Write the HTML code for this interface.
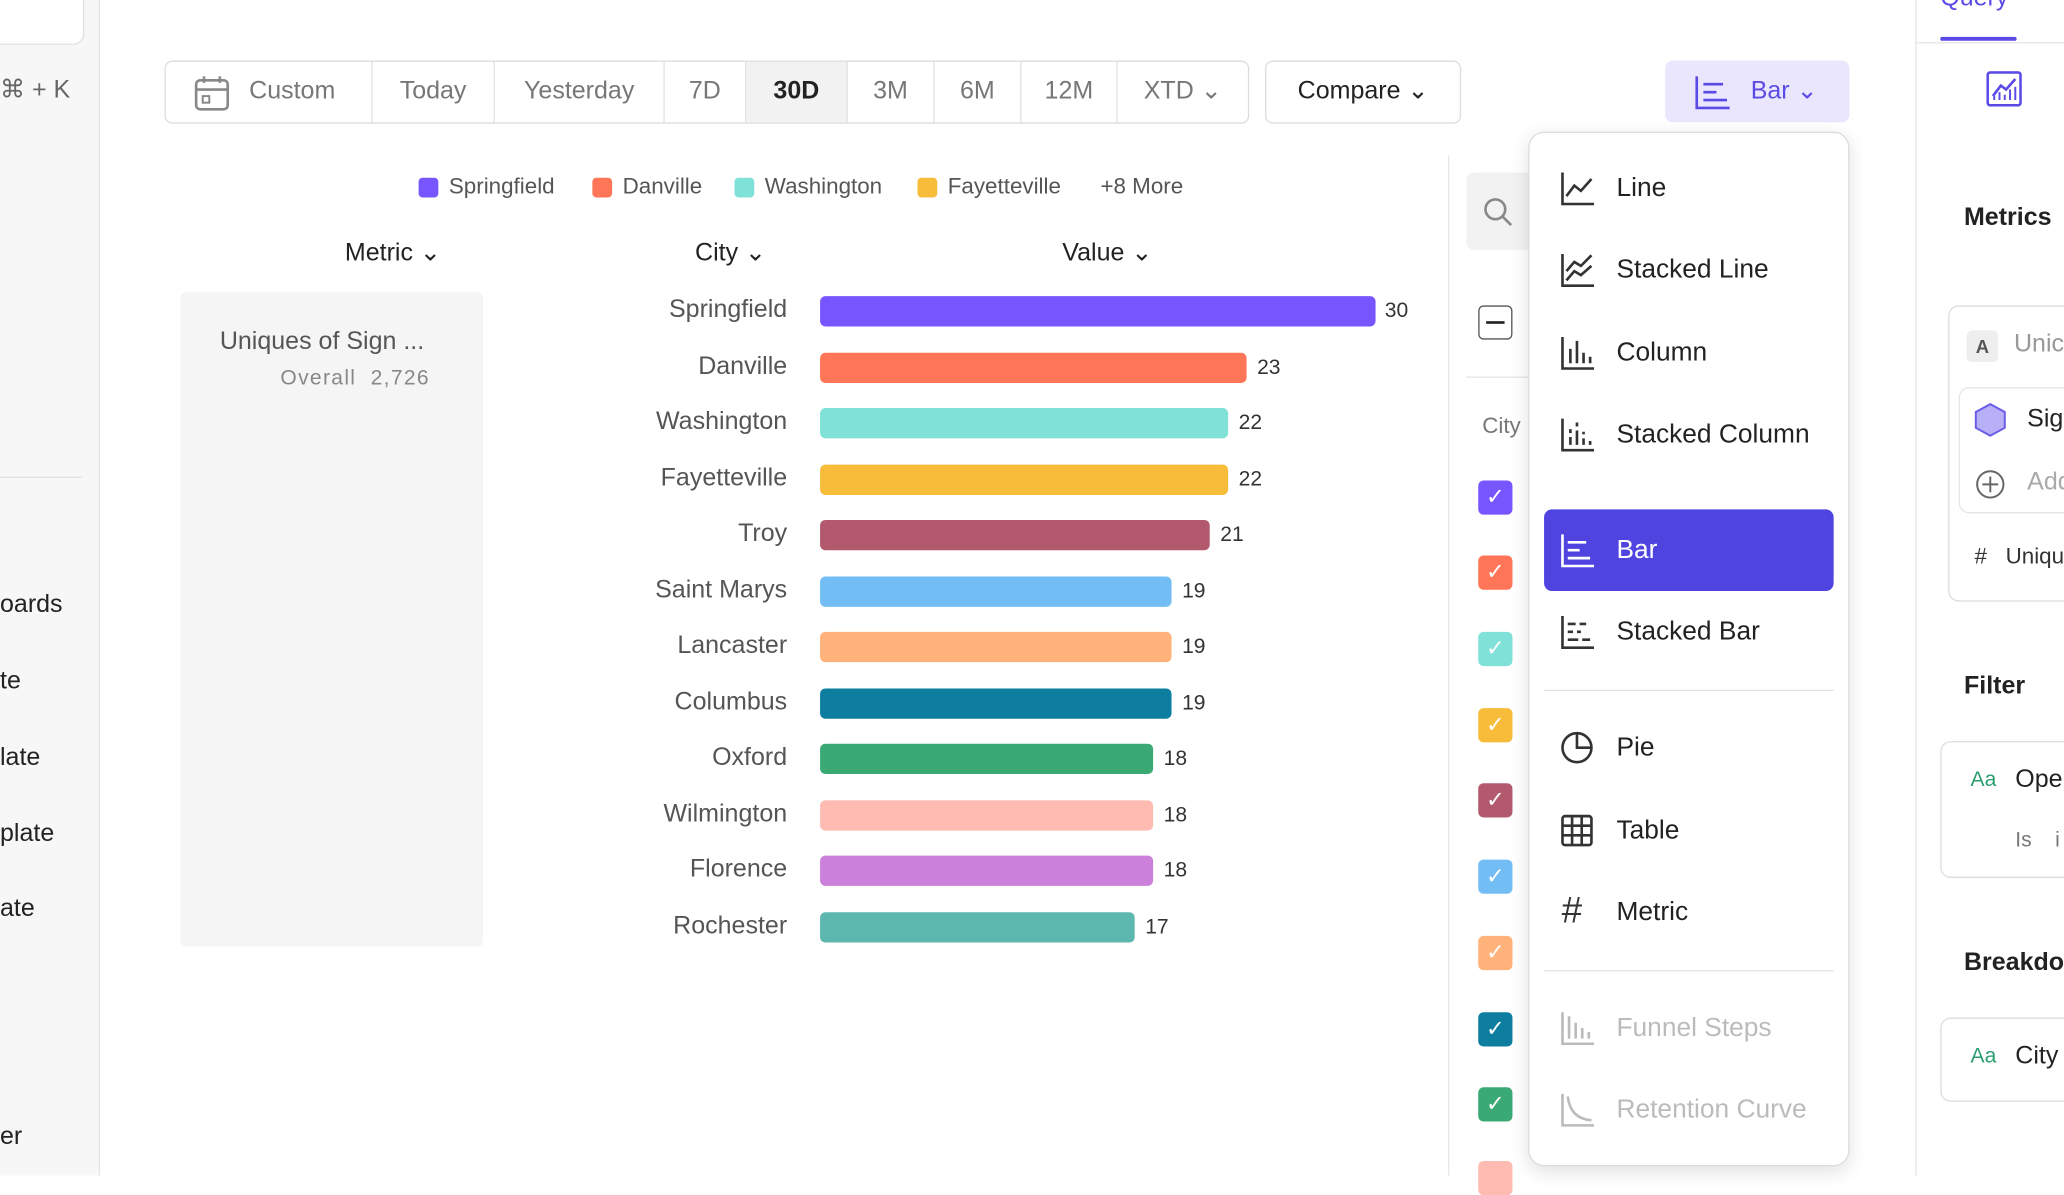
<!DOCTYPE html>
<html><head><meta charset="utf-8"><style>
html,body{margin:0;padding:0;width:2064px;height:1176px;overflow:hidden;background:#fff;font-family:"Liberation Sans",sans-serif;}
#w{position:absolute;left:0;top:0;width:1568px;height:893px;transform:scale(1.31633);transform-origin:0 0;}
.a{position:absolute;white-space:nowrap;}
.seg{position:absolute;top:0;height:46px;line-height:46px;text-align:center;color:#777;font-size:19px;border-right:1px solid #e2e2e2;box-sizing:border-box;}
.lab{position:absolute;right:970px;font-size:19px;color:#555;text-align:right;}
.bar{position:absolute;left:623px;height:23px;border-radius:4px;}
.val{position:absolute;font-size:16px;color:#333;}
.cb{position:absolute;left:1123px;width:26px;height:26px;border-radius:4px;color:#fff;font-size:17px;text-align:center;line-height:26px;}
.mi{position:absolute;left:1228px;font-size:20px;color:#222;}
.ic{position:absolute;left:1185px;width:26px;height:26px;}
</style></head><body><div id="w">
<!-- left sidebar -->
<div class="a" style="left:0;top:0;width:75px;height:893px;background:#f7f7f7;border-right:1px solid #e6e6e6"></div>
<div class="a" style="left:-10px;top:-10px;width:72px;height:42px;border:1px solid #e0e0e0;border-radius:8px;background:#fff"></div>
<div class="a" style="left:0;top:57px;font-size:19px;color:#666">⌘ + K</div>
<div class="a" style="left:0;top:362px;width:62px;height:1px;background:#e0e0e0"></div>
<div class="a" style="left:0;top:449px;font-size:19px;color:#222">oards</div>
<div class="a" style="left:0;top:507px;font-size:19px;color:#222">te</div>
<div class="a" style="left:0;top:565px;font-size:19px;color:#222">late</div>
<div class="a" style="left:0;top:623px;font-size:19px;color:#222">plate</div>
<div class="a" style="left:0;top:680px;font-size:19px;color:#222">ate</div>
<div class="a" style="left:0;top:853px;font-size:19px;color:#222">er</div>
<!-- toolbar -->
<div class="a" style="left:125px;top:46px;width:822px;height:46px;border:1px solid #ddd;border-radius:6px;overflow:hidden">
<div class="seg" style="left:0;width:157px;padding-left:36px">Custom</div>
<div class="seg" style="left:157px;width:93px">Today</div>
<div class="seg" style="left:250px;width:129px">Yesterday</div>
<div class="seg" style="left:379px;width:62px">7D</div>
<div class="seg" style="left:441px;width:77px;background:#f2f2f2;color:#222;font-weight:bold">30D</div>
<div class="seg" style="left:518px;width:66px">3M</div>
<div class="seg" style="left:584px;width:66px">6M</div>
<div class="seg" style="left:650px;width:73px">12M</div>
<div class="seg" style="left:723px;width:99px;border:none">XTD ⌄</div>
</div>
<svg class="a" style="left:147px;top:57px" width="28" height="28"><rect x="2" y="4" width="24" height="22" rx="3" fill="none" stroke="#888" stroke-width="2"/><line x1="2" y1="11" x2="26" y2="11" stroke="#888" stroke-width="2"/><line x1="8" y1="1" x2="8" y2="6" stroke="#888" stroke-width="2"/><line x1="20" y1="1" x2="20" y2="6" stroke="#888" stroke-width="2"/><rect x="7" y="16" width="5" height="5" fill="none" stroke="#888" stroke-width="1.5"/></svg>
<div class="a" style="left:961px;top:46px;width:147px;height:46px;border:1px solid #ddd;border-radius:6px;line-height:46px;text-align:center;font-size:19px;color:#222">Compare ⌄</div>
<div class="a" style="left:1265px;top:46px;width:140px;height:47px;background:#e9e6fe;border-radius:6px;line-height:47px;font-size:19px;color:#5b4be6;padding-left:65px;box-sizing:border-box">Bar ⌄</div>
<svg class="a" style="left:1287px;top:56px" width="28" height="28"><path d="M2 2V26H27" fill="none" stroke="#5b4be6" stroke-width="2"/><path d="M7 8H22M7 14H17M7 20H25" stroke="#5b4be6" stroke-width="2"/></svg>
<!-- legend -->
<div class="a" style="left:318px;top:135px;width:15px;height:15px;border-radius:3px;background:#7856ff"></div>
<div class="a" style="left:341px;top:132px;font-size:17px;color:#555">Springfield</div>
<div class="a" style="left:450px;top:135px;width:15px;height:15px;border-radius:3px;background:#ff7557"></div>
<div class="a" style="left:473px;top:132px;font-size:17px;color:#555">Danville</div>
<div class="a" style="left:558px;top:135px;width:15px;height:15px;border-radius:3px;background:#80e1d9"></div>
<div class="a" style="left:581px;top:132px;font-size:17px;color:#555">Washington</div>
<div class="a" style="left:697px;top:135px;width:15px;height:15px;border-radius:3px;background:#f8bc3b"></div>
<div class="a" style="left:720px;top:132px;font-size:17px;color:#555">Fayetteville</div>
<div class="a" style="left:836px;top:132px;font-size:17px;color:#555">+8 More</div>
<!-- headers -->
<div class="a" style="left:262px;top:181px;font-size:19px;color:#222">Metric ⌄</div>
<div class="a" style="left:528px;top:181px;font-size:19px;color:#222">City ⌄</div>
<div class="a" style="left:807px;top:181px;font-size:19px;color:#222">Value ⌄</div>
<div class="a" style="left:137px;top:222px;width:230px;height:497px;background:#f5f5f5;border-radius:4px"></div>
<div class="a" style="left:167px;top:249px;font-size:19px;color:#555">Uniques of Sign ...</div>
<div class="a" style="left:213px;top:279px;font-size:16px;color:#888;letter-spacing:1px">Overall&nbsp; 2,726</div>
<!-- bars -->
<div class="lab" style="top:225px;right:970px">Springfield</div><div class="bar" style="top:225px;width:422px;background:#7856ff"></div><div class="val" style="top:228px;left:1052px">30</div>
<div class="lab" style="top:268px">Danville</div><div class="bar" style="top:268px;width:324px;background:#ff7557"></div><div class="val" style="top:271px;left:955px">23</div>
<div class="lab" style="top:310px">Washington</div><div class="bar" style="top:310px;width:310px;background:#80e1d9"></div><div class="val" style="top:313px;left:941px">22</div>
<div class="lab" style="top:353px">Fayetteville</div><div class="bar" style="top:353px;width:310px;background:#f8bc3b"></div><div class="val" style="top:356px;left:941px">22</div>
<div class="lab" style="top:395px">Troy</div><div class="bar" style="top:395px;width:296px;background:#b2596e"></div><div class="val" style="top:398px;left:927px">21</div>
<div class="lab" style="top:438px">Saint Marys</div><div class="bar" style="top:438px;width:267px;background:#72bef4"></div><div class="val" style="top:441px;left:898px">19</div>
<div class="lab" style="top:480px">Lancaster</div><div class="bar" style="top:480px;width:267px;background:#ffb27a"></div><div class="val" style="top:483px;left:898px">19</div>
<div class="lab" style="top:523px">Columbus</div><div class="bar" style="top:523px;width:267px;background:#0d7ea0"></div><div class="val" style="top:526px;left:898px">19</div>
<div class="lab" style="top:565px">Oxford</div><div class="bar" style="top:565px;width:253px;background:#3ba974"></div><div class="val" style="top:568px;left:884px">18</div>
<div class="lab" style="top:608px">Wilmington</div><div class="bar" style="top:608px;width:253px;background:#febbb2"></div><div class="val" style="top:611px;left:884px">18</div>
<div class="lab" style="top:650px">Florence</div><div class="bar" style="top:650px;width:253px;background:#cb80dc"></div><div class="val" style="top:653px;left:884px">18</div>
<div class="lab" style="top:693px">Rochester</div><div class="bar" style="top:693px;width:239px;background:#5cb7ae"></div><div class="val" style="top:696px;left:870px">17</div>
<!-- right of chart -->
<div class="a" style="left:1100px;top:118px;width:1px;height:775px;background:#e6e6e6"></div>
<div class="a" style="left:1114px;top:131px;width:60px;height:59px;background:#f2f2f2;border-radius:6px"></div>
<svg class="a" style="left:1126px;top:149px" width="24" height="24"><circle cx="10" cy="10" r="7.5" fill="none" stroke="#888" stroke-width="2"/><line x1="15.5" y1="15.5" x2="22" y2="22" stroke="#888" stroke-width="2"/></svg>
<div class="a" style="left:1123px;top:232px;width:24px;height:24px;border:1.5px solid #555;border-radius:4px"></div>
<div class="a" style="left:1129px;top:244px;width:14px;height:2px;background:#222"></div>
<div class="a" style="left:1114px;top:286px;width:60px;height:1px;background:#e6e6e6"></div>
<div class="a" style="left:1126px;top:314px;font-size:17px;color:#777">City</div>
<div class="cb" style="top:365px;background:#7856ff">✓</div>
<div class="cb" style="top:422px;background:#ff7557">✓</div>
<div class="cb" style="top:480px;background:#80e1d9">✓</div>
<div class="cb" style="top:538px;background:#f8bc3b">✓</div>
<div class="cb" style="top:595px;background:#b2596e">✓</div>
<div class="cb" style="top:653px;background:#72bef4">✓</div>
<div class="cb" style="top:711px;background:#ffb27a">✓</div>
<div class="cb" style="top:769px;background:#0d7ea0">✓</div>
<div class="cb" style="top:826px;background:#3ba974">✓</div>
<div class="cb" style="top:882px;background:#febbb2"></div>
<!-- dropdown -->
<div class="a" style="left:1161px;top:100px;width:244px;height:786px;background:#fff;border:1px solid #ddd;border-radius:12px;box-shadow:0 4px 14px rgba(0,0,0,.12);box-sizing:border-box"></div>
<svg class="ic" style="top:130px" viewBox="0 0 26 26"><path d="M2 1V25H26" fill="none" stroke="#333" stroke-width="2"/><path d="M5 19L11 11L16 15L24 6" fill="none" stroke="#333" stroke-width="2"/></svg>
<div class="mi" style="top:132px">Line</div>
<svg class="ic" style="top:192px" viewBox="0 0 26 26"><path d="M2 1V25H26" fill="none" stroke="#333" stroke-width="2"/><path d="M5 14L11 7L16 10L24 2M5 21L11 14L16 17L24 10" fill="none" stroke="#333" stroke-width="2"/></svg>
<div class="mi" style="top:194px">Stacked Line</div>
<svg class="ic" style="top:255px" viewBox="0 0 26 26"><path d="M2 1V25H26" fill="none" stroke="#333" stroke-width="2"/><path d="M8 21V10M13 21V4M18 21V13M23 21V16" stroke="#333" stroke-width="2"/></svg>
<div class="mi" style="top:257px">Column</div>
<svg class="ic" style="top:317px" viewBox="0 0 26 26"><path d="M2 1V25H26" fill="none" stroke="#333" stroke-width="2"/><path d="M8 21V15M8 12V9M13 21V10M13 7V4M18 21V16M18 13V11M23 21V18" stroke="#333" stroke-width="2"/></svg>
<div class="mi" style="top:319px">Stacked Column</div>
<div class="a" style="left:1173px;top:387px;width:220px;height:62px;background:#4f44e0;border-radius:6px"></div>
<svg class="ic" style="top:405px" viewBox="0 0 26 26"><path d="M2 1V25H26" fill="none" stroke="#fff" stroke-width="2"/><path d="M6 7H20M6 13H15M6 19H23" stroke="#fff" stroke-width="2"/></svg>
<div class="mi" style="top:407px;color:#fff">Bar</div>
<svg class="ic" style="top:467px" viewBox="0 0 26 26"><path d="M2 1V25H26" fill="none" stroke="#333" stroke-width="2"/><path d="M6 7H12M15 7H20M6 13H10M13 13H16M6 19H14M17 19H23" stroke="#333" stroke-width="2"/></svg>
<div class="mi" style="top:469px">Stacked Bar</div>
<div class="a" style="left:1173px;top:524px;width:220px;height:1px;background:#e2e2e2"></div>
<svg class="ic" style="top:555px" viewBox="0 0 26 26"><circle cx="13" cy="13" r="11" fill="none" stroke="#333" stroke-width="2"/><path d="M13 2V13H24" fill="none" stroke="#333" stroke-width="2"/></svg>
<div class="mi" style="top:557px">Pie</div>
<svg class="ic" style="top:618px" viewBox="0 0 26 26"><rect x="2" y="2" width="22" height="22" rx="2" fill="none" stroke="#333" stroke-width="2"/><path d="M2 9.3H24M2 16.6H24M9.3 2V24M16.6 2V24" stroke="#333" stroke-width="2"/></svg>
<div class="mi" style="top:620px">Table</div>
<div class="a" style="left:1186px;top:676px;font-size:28px;color:#333;font-style:italic">#</div>
<div class="mi" style="top:682px">Metric</div>
<div class="a" style="left:1173px;top:737px;width:220px;height:1px;background:#e2e2e2"></div>
<svg class="ic" style="top:768px" viewBox="0 0 26 26"><path d="M2 1V25H26" fill="none" stroke="#bbb" stroke-width="2"/><path d="M7 21V4M12 21V9M17 21V13M22 21V16" stroke="#bbb" stroke-width="2"/></svg>
<div class="mi" style="top:770px;color:#bbb">Funnel Steps</div>
<svg class="ic" style="top:830px" viewBox="0 0 26 26"><path d="M2 1V25H26" fill="none" stroke="#bbb" stroke-width="2"/><path d="M6 3Q8 20 24 21" fill="none" stroke="#bbb" stroke-width="2"/></svg>
<div class="mi" style="top:832px;color:#bbb">Retention Curve</div>
<!-- right panel -->
<div class="a" style="left:1455px;top:0;width:1px;height:893px;background:#e6e6e6"></div>
<div class="a" style="left:1474px;top:-12px;font-size:19px;color:#5b4be6">Query</div>
<div class="a" style="left:1474px;top:28px;width:58px;height:3px;background:#5b4be6;border-radius:2px"></div>
<div class="a" style="left:1456px;top:32px;width:112px;height:1px;background:#e6e6e6"></div>
<svg class="a" style="left:1509px;top:54px" width="27" height="27"><rect x="1" y="1" width="25" height="25" rx="2" fill="none" stroke="#5b4be6" stroke-width="2"/><path d="M5 19L11 11L15 14L22 6" fill="none" stroke="#5b4be6" stroke-width="2"/><path d="M6 22V19M10 22V16M14 22V18M18 22V14M22 22V12" stroke="#5b4be6" stroke-width="1.5"/></svg>
<div class="a" style="left:1492px;top:155px;font-size:19px;font-weight:bold;color:#222">Metrics</div>
<div class="a" style="left:1480px;top:232px;width:110px;height:223px;border:1px solid #ddd;border-radius:8px"></div>
<div class="a" style="left:1494px;top:251px;width:24px;height:24px;background:#eee;border-radius:4px;font-size:14px;font-weight:bold;color:#555;text-align:center;line-height:24px">A</div>
<div class="a" style="left:1530px;top:251px;font-size:19px;color:#999">Unic</div>
<div class="a" style="left:1488px;top:294px;width:100px;height:94px;border:1px solid #e6e6e6;border-radius:8px"></div>
<svg class="a" style="left:1499px;top:306px" width="26" height="26"><polygon points="13,1 24,7 24,19 13,25 2,19 2,7" fill="#b8b0f7" stroke="#6a5ce8" stroke-width="1.5"/></svg>
<div class="a" style="left:1540px;top:308px;font-size:19px;color:#222">Sig</div>
<svg class="a" style="left:1500px;top:356px" width="24" height="24"><circle cx="12" cy="12" r="10" fill="none" stroke="#666" stroke-width="1.5"/><path d="M12 6V18M6 12H18" stroke="#666" stroke-width="1.5"/></svg>
<div class="a" style="left:1540px;top:356px;font-size:19px;color:#aaa">Add</div>
<div class="a" style="left:1500px;top:413px;font-size:17px;color:#333">#&nbsp;&nbsp; Uniqu</div>
<div class="a" style="left:1492px;top:511px;font-size:19px;font-weight:bold;color:#222">Filter</div>
<div class="a" style="left:1474px;top:563px;width:110px;height:102px;border:1px solid #ddd;border-radius:8px"></div>
<div class="a" style="left:1497px;top:584px;font-size:16px;color:#2a9d6e">Aa</div>
<div class="a" style="left:1531px;top:582px;font-size:19px;color:#222">Ope</div>
<div class="a" style="left:1531px;top:630px;font-size:16px;color:#777">Is&nbsp;&nbsp;&nbsp; i</div>
<div class="a" style="left:1492px;top:721px;font-size:19px;font-weight:bold;color:#222">Breakdo</div>
<div class="a" style="left:1474px;top:773px;width:110px;height:62px;border:1px solid #ddd;border-radius:8px"></div>
<div class="a" style="left:1497px;top:794px;font-size:16px;color:#2a9d6e">Aa</div>
<div class="a" style="left:1531px;top:792px;font-size:19px;color:#222">City</div>
</div></body></html>
